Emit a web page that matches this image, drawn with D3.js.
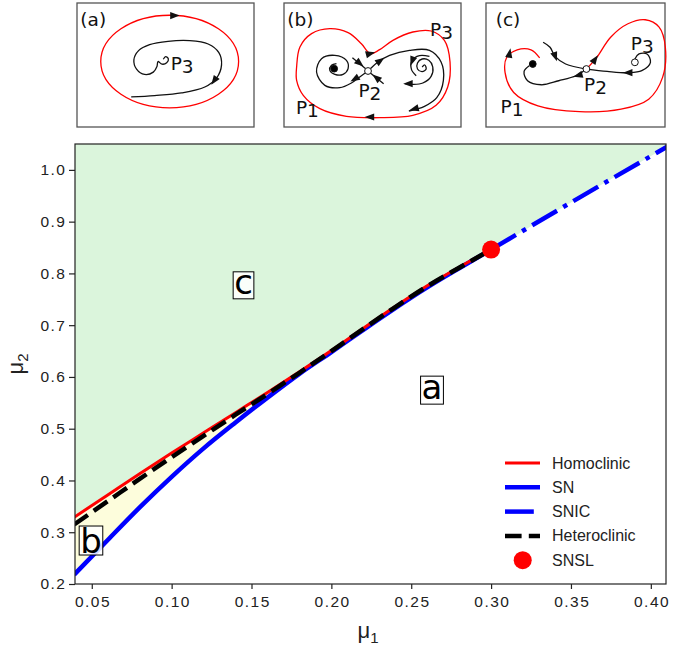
<!DOCTYPE html>
<html>
<head>
<meta charset="utf-8">
<script src="https://cdn.jsdelivr.net/npm/d3@7"></script>
<style>
  body { margin: 0; background: #fff; }
  svg { display: block; }
</style>
</head>
<body>
<svg id="chart" width="685" height="647"></svg>
<script>
// ---- data ----
var mu1Grid    = [0.039, 0.06, 0.08, 0.10, 0.12, 0.14, 0.16, 0.18, 0.20, 0.22, 0.24, 0.26, 0.28, 0.30];
var snVals     = [0.218, 0.285, 0.348, 0.407, 0.462, 0.512, 0.560, 0.606, 0.648, 0.691, 0.733, 0.773, 0.810, 0.846];
var homoVals   = [0.329, 0.372, 0.413, 0.453, 0.492, 0.531, 0.570, 0.610, 0.651, 0.694, 0.736, 0.776, 0.812, 0.846];
var heteroVals = [0.315, 0.360, 0.403, 0.445, 0.486, 0.527, 0.567, 0.608, 0.650, 0.693, 0.735, 0.775, 0.811, 0.846];
var snicMu1    = [0.30, 0.355, 0.412];
var snicVals   = [0.846, 0.946, 1.048];
var snsl       = [0.30, 0.846];
var xTicks = [0.05, 0.10, 0.15, 0.20, 0.25, 0.30, 0.35, 0.40];
var yTicks = [0.2, 0.3, 0.4, 0.5, 0.6, 0.7, 0.8, 0.9, 1.0];
var regionNames = ['c', 'a', 'b'];
var regionMu1   = [0.145, 0.263, 0.0495];
var regionMu2   = [0.777, 0.5745, 0.284];
var legendNames = ['Homoclinic', 'SN', 'SNIC', 'Heteroclinic', 'SNSL'];

var svg = d3.select('#chart');

var x = d3.scaleLinear().domain([0.0395, 0.4095]).range([75, 666]);
var y = d3.scaleLinear().domain([0.2, 1.05]).range([584, 144]);

svg.append('clipPath').attr('id', 'plotclip')
  .append('rect').attr('x', 75).attr('y', 144).attr('width', 591).attr('height', 440);

var plot = svg.append('g').attr('clip-path', 'url(#plotclip)');

var sn = mu1Grid.map(function(m, i){ return [m, snVals[i]]; });
var homo = mu1Grid.map(function(m, i){ return [m, homoVals[i]]; });
var hetero = mu1Grid.map(function(m, i){ return [m, heteroVals[i]]; });
var snic = snicMu1.map(function(m, i){ return [m, snicVals[i]]; });
var upper = homo.concat(snic.slice(1));

// green region (c)
plot.append('path')
  .datum(upper)
  .attr('fill', '#dbf5dc')
  .attr('d', d3.area().curve(d3.curveMonotoneX)
     .x(function(d){ return x(d[0]); })
     .y0(function(d){ return y(d[1]); })
     .y1(y(1.06)));

// yellow region (b)
plot.append('path')
  .datum(mu1Grid.map(function(m, i){ return [m, homoVals[i], snVals[i]]; }))
  .attr('fill', '#fdfddc')
  .attr('d', d3.area().curve(d3.curveMonotoneX)
     .x(function(d){ return x(d[0]); })
     .y0(function(d){ return y(d[1]); })
     .y1(function(d){ return y(d[2]); }));

var line = d3.line().curve(d3.curveMonotoneX)
  .x(function(d){ return x(d[0]); })
  .y(function(d){ return y(d[1]); });

plot.append('path').datum(sn).attr('d', line)
  .attr('fill', 'none').attr('stroke', '#0000ff').attr('stroke-width', 4.5);
plot.append('path').datum(snic).attr('d', line)
  .attr('fill', 'none').attr('stroke', '#0000ff').attr('stroke-width', 4.5)
  .attr('stroke-dasharray', '28.8,7.2,4.5,7.2');
plot.append('path').datum(homo).attr('d', line)
  .attr('fill', 'none').attr('stroke', '#ff0000').attr('stroke-width', 3);
plot.append('path').datum(hetero).attr('d', line)
  .attr('fill', 'none').attr('stroke', '#000').attr('stroke-width', 4.5)
  .attr('stroke-dasharray', '16.6,7.2');
plot.append('circle')
  .attr('cx', x(snsl[0])).attr('cy', y(snsl[1])).attr('r', 9).attr('fill', '#ff0000');

// region labels with boxes
var boxH = { a: 28, b: 29, c: 27 };
regionNames.forEach(function(t, i){
  var cx = x(regionMu1[i]), cy = y(regionMu2[i]);
  var g = svg.append('g');
  var r = g.append('rect');
  var txt = g.append('text')
    .attr('x', cx).attr('y', cy)
    .attr('text-anchor', 'middle')
    .attr('font-family', 'DejaVu Sans').attr('font-size', 34)
    .text(t);
  var w = txt.node().getComputedTextLength() + 2;
  var h = boxH[t];
  var off = (t === 'b') ? 0.37 * 34 : 0.27 * 34;
  txt.attr('y', cy + off);
  r.attr('x', cx - w / 2).attr('y', cy - h / 2).attr('width', w).attr('height', h)
    .attr('fill', '#fff').attr('fill-opacity', 0.85).attr('stroke', '#000').attr('stroke-width', 1);
});

// axes
var xAxis = svg.append('g').attr('transform', 'translate(0,584)')
  .call(d3.axisBottom(x).tickValues(xTicks).tickFormat(d3.format('.2f')).tickSize(5).tickPadding(7));
var yAxis = svg.append('g').attr('transform', 'translate(75,0)')
  .call(d3.axisLeft(y).tickValues(yTicks).tickFormat(d3.format('.1f')).tickSize(6).tickPadding(4));
[xAxis, yAxis].forEach(function(ax){
  ax.select('.domain').remove();
  ax.selectAll('.tick line').attr('stroke', '#222').attr('stroke-width', 1.2);
  ax.selectAll('.tick text')
    .attr('font-family', 'Liberation Sans, Arial, sans-serif')
    .attr('font-size', 15.5).attr('fill', '#222')
    .attr('letter-spacing', '1.5px');
});
xAxis.selectAll('.tick text').attr('dx', '0.75px');
yAxis.selectAll('.tick text').attr('dx', '1.5px');

svg.append('rect').attr('x', 75).attr('y', 144).attr('width', 591).attr('height', 440)
  .attr('fill', 'none').attr('stroke', '#222').attr('stroke-width', 1.2);

var xl = svg.append('text').attr('x', 368).attr('y', 638).attr('text-anchor', 'middle')
  .attr('font-family', 'Liberation Sans, Arial, sans-serif').attr('font-size', 22).attr('fill', '#222');
xl.append('tspan').text('μ');
xl.append('tspan').attr('font-size', 15).attr('dy', 5).text('1');

var yl = svg.append('text').attr('transform', 'translate(23,364) rotate(-90)').attr('text-anchor', 'middle')
  .attr('font-family', 'Liberation Sans, Arial, sans-serif').attr('font-size', 22).attr('fill', '#222');
yl.append('tspan').text('μ');
yl.append('tspan').attr('font-size', 15).attr('dy', 5).text('2');

// legend
var legY0 = 463, legStep = 24.3;
var leg = svg.append('g');
legendNames.forEach(function(name, i){
  var ly = legY0 + i * legStep;
  if (name === 'SNSL') {
    leg.append('circle').attr('cx', 522.7).attr('cy', ly).attr('r', 9).attr('fill', '#ff0000');
  } else {
    var l = leg.append('line').attr('x1', 505).attr('x2', 540).attr('y1', ly).attr('y2', ly);
    if (name === 'Homoclinic') l.attr('stroke', '#ff0000').attr('stroke-width', 3);
    if (name === 'SN') l.attr('stroke', '#0000ff').attr('stroke-width', 4.5);
    if (name === 'SNIC') l.attr('stroke', '#0000ff').attr('stroke-width', 4.5).attr('stroke-dasharray', '28.8,7.2,4.5,7.2');
    if (name === 'Heteroclinic') l.attr('stroke', '#000').attr('stroke-width', 4.5).attr('stroke-dasharray', '16.6,7.2');
  }
  leg.append('text').attr('x', 552).attr('y', ly + 5.5)
    .attr('font-family', 'Liberation Sans, Arial, sans-serif').attr('font-size', 16).attr('fill', '#222')
    .text(name);
});

// ---- insets (coordinates, in panel units) ----
var panels = [
  { id: 'a', px: [77, 254], dom: [8, 537], domY: [8, 383] },
  { id: 'b', px: [284, 461], dom: [12, 545], domY: [8, 380] },
  { id: 'c', px: [486, 665], dom: [10, 527], domY: [8, 378] }
];

var aCycleEllipse = [285, 185, 206, 140];
var aTraj = [[266,178],[273,170],[281,177],[276,189],[262,193],[250,185],[247,200],[236,217],[210,224],[186,208],[178,180],[192,152],[225,134],[280,124],[345,122],[400,132],[432,158],[440,195],[425,235],[390,262],[320,280],[240,288],[170,292]];
var aArrows = [[300,46,0],[418,243,125]];
var aLabels = [['(a)',18,78],['P',288,210,'3']];

var bRed = [[50,200],[60,140],[95,100],[150,85],[205,97],[245,130],[272,160],[300,148],[340,120],[400,95],[455,92],[495,120],[512,185],[505,260],[470,315],[400,345],[300,352],[200,348],[120,325],[70,285],[50,240]];
var bLeft = [[265,212],[240,230],[215,248],[180,262],[135,255],[110,215],[125,175],[165,165],[200,180],[205,205],[190,222],[165,222],[150,210],[155,195],[170,190]];
var bIn1 = [[218,172],[258,205]];
var bIn2 = [[312,250],[272,218]];
var bRight = [[272,205],[295,185],[330,165],[390,150],[450,150],[485,185],[492,240],[472,292],[435,318],[388,332]];
var bSpiral = [[428,200],[436,194],[440,206],[428,214],[414,206],[414,188],[428,176],[448,180],[460,200],[455,228],[430,248],[400,252],[376,250]];
var bSpiral2 = [[450,168],[420,166],[398,180],[396,208],[410,226]];
var bArrows = [[272,160,-15],[270,350,180],[225,236,150],[240,189,40],[290,232,-140],[302,181,-35],[404,326,165],[386,250,180],[398,182,110]];
var bDots = [[163,205,'#000'],[265,212,'#fff']];
var bLabels = [['(b)',22,78],['P',452,106,'3'],['P',236,290,'2'],['P',48,340,'1']];

var cRed = [[300,205],[330,170],[370,110],[420,70],[470,58],[510,80],[528,140],[520,230],[480,295],[400,325],[280,332],[160,315],[90,275],[65,215],[70,170],[100,148],[140,148],[165,172]];
var cBottom = [[300,205],[270,225],[220,240],[170,252],[130,240],[120,212],[135,195]];
var cIn = [[175,125],[195,140],[210,168],[240,190],[300,205]];
var cP3 = [[300,205],[360,212],[420,216],[460,210],[485,185],[475,160],[452,160],[440,175]];
var cArrows = [[325,176,-55],[78,158,-80],[276,224,165],[210,168,70],[420,216,180]];
var cDots = [[145,190,'#000'],[300,205,'#fff'],[440,185,'#fff']];
var cLabels = [['(c)',38,78],['P',428,148,'3'],['P',293,270,'2'],['P',52,335,'1']];

function drawPanel(p, reds, blacks, arrows, dots, labels, ellipse) {
  var px = d3.scaleLinear().domain(p.dom).range(p.px);
  var py = d3.scaleLinear().domain(p.domY).range([3, 127]);
  var g = svg.append('g');
  g.append('rect').attr('x', p.px[0]).attr('y', 3).attr('width', p.px[1] - p.px[0]).attr('height', 124)
    .attr('fill', '#fff').attr('stroke', '#555').attr('stroke-width', 1.3);
  var ln = d3.line().curve(d3.curveCatmullRom.alpha(0.5))
    .x(function(d){ return px(d[0]); }).y(function(d){ return py(d[1]); });
  var lnClosed = d3.line().curve(d3.curveCatmullRomClosed.alpha(0.5))
    .x(function(d){ return px(d[0]); }).y(function(d){ return py(d[1]); });
  if (ellipse) {
    g.append('ellipse').attr('cx', px(ellipse[0])).attr('cy', py(ellipse[1]))
      .attr('rx', px(ellipse[0] + ellipse[2]) - px(ellipse[0]))
      .attr('ry', py(ellipse[1] + ellipse[3]) - py(ellipse[1]))
      .attr('fill', 'none').attr('stroke', '#ff0000').attr('stroke-width', 1.3);
  }
  reds.forEach(function(r){
    g.append('path').attr('d', r.closed ? lnClosed(r.pts) : ln(r.pts))
      .attr('fill', 'none').attr('stroke', '#ff0000').attr('stroke-width', 1.3);
  });
  blacks.forEach(function(b){
    g.append('path').attr('d', ln(b)).attr('fill', 'none').attr('stroke', '#111').attr('stroke-width', 1.3);
  });
  arrows.forEach(function(a){
    g.append('path').attr('d', 'M5,0L-4.5,-3.6L-4.5,3.6Z')
      .attr('transform', 'translate(' + px(a[0]) + ',' + py(a[1]) + ') rotate(' + a[2] + ')')
      .attr('fill', '#111');
  });
  dots.forEach(function(d){
    g.append('circle').attr('cx', px(d[0])).attr('cy', py(d[1])).attr('r', 3.4)
      .attr('fill', d[2]).attr('stroke', '#111').attr('stroke-width', 1);
  });
  labels.forEach(function(l){
    var t = g.append('text').attr('x', px(l[1])).attr('y', py(l[2]))
      .attr('font-family', 'DejaVu Sans').attr('font-size', 18.5).attr('fill', '#111');
    t.append('tspan').text(l[0]);
    if (l[3]) t.append('tspan').attr('dy', 3).text(l[3]);
  });
}

drawPanel(panels[0], [], [aTraj], aArrows, [], aLabels, aCycleEllipse);
drawPanel(panels[1], [{ pts: bRed, closed: true }], [bLeft, bIn1, bIn2, bRight, bSpiral, bSpiral2], bArrows, bDots, bLabels);
drawPanel(panels[2], [{ pts: cRed }], [cBottom, cIn, cP3], cArrows, cDots, cLabels);
</script>
</body>
</html>
